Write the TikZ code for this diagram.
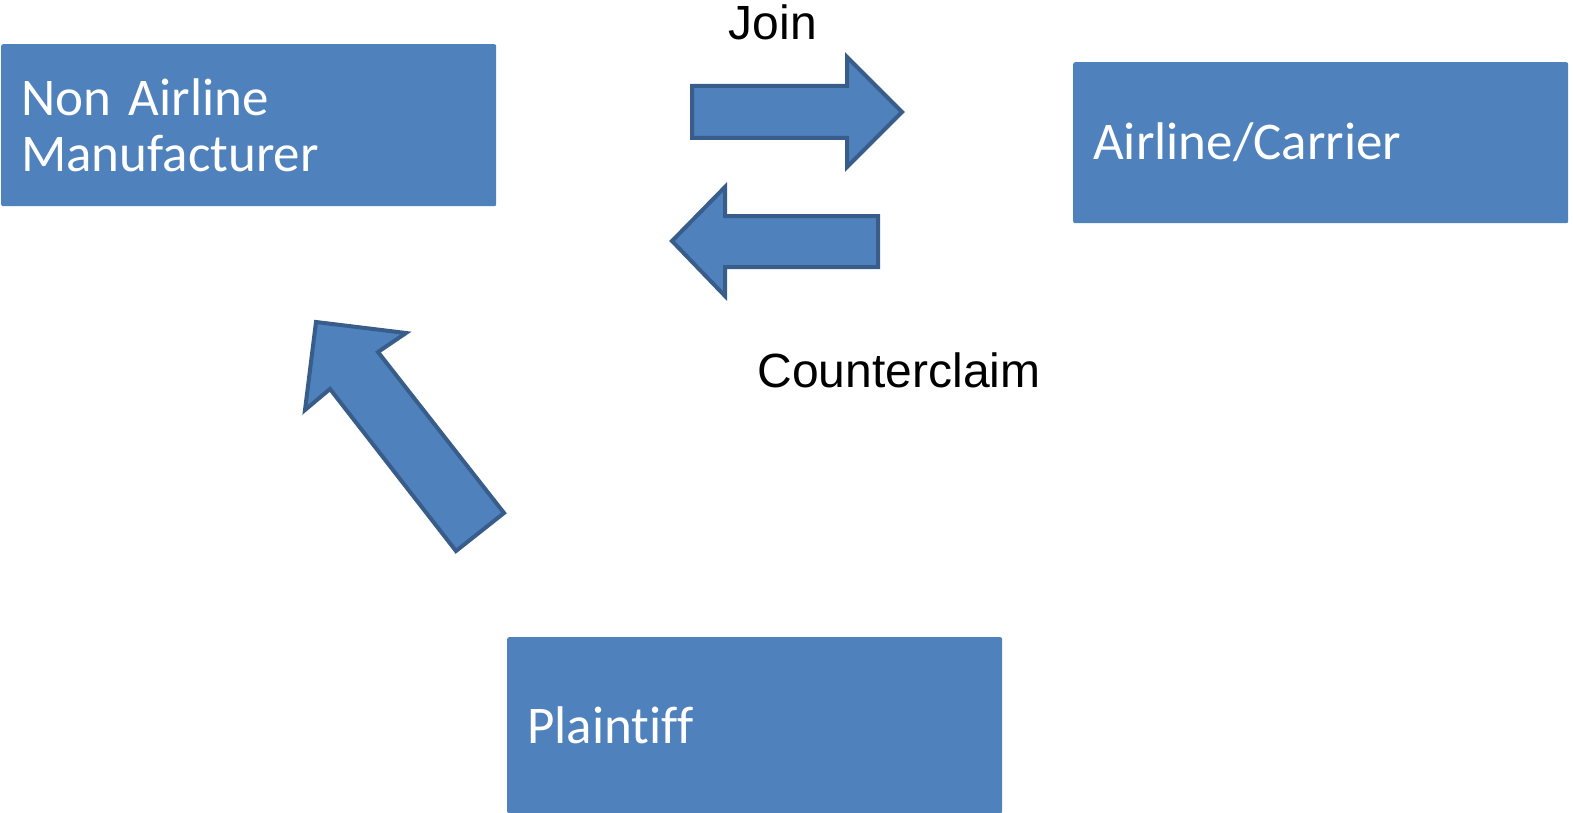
\documentclass[tikz,border=0pt]{standalone}
\usepackage{fontspec}
\setmainfont{Carlito}[Ligatures={NoCommon,NoContextual}]
\newfontfamily\arialfont{Liberation Sans}
\definecolor{boxblue}{HTML}{4F81BD}
\definecolor{edgeblue}{HTML}{385D8A}
\tikzset{
  party/.style={fill=boxblue, text=white, rounded corners=2pt, anchor=north west,
    inner xsep=20pt, inner ysep=0pt, text width=455pt, align=left,
    font=\fontsize{53}{56}\selectfont},
  blockarrow/.style={fill=boxblue, draw=edgeblue, line width=4pt},
  claimtext/.style={anchor=base, font=\arialfont\fontsize{48}{56}\selectfont}
}

\begin{document}
\begin{tikzpicture}[x=1pt, y=-1pt]
  \useasboundingbox (0,0) rectangle (1573,813);
  % parties
  \node[party, minimum height=162pt] (maker) at (1,44) {Non Airline\\Manufacturer};
  \node[party, minimum height=161pt] (carrier) at (1073,62) {Airline/Carrier};
  \node[party, minimum height=176pt] (plaintiff) at (507,637) {Plaintiff};
  % join arrow
  \draw[blockarrow] (692,86) -- (847,86) -- (847,57) -- (902,112)
    -- (847,167) -- (847,138) -- (692,138) -- cycle;
  % counterclaim arrow
  \draw[blockarrow] (878,216) -- (725,216) -- (725,187) -- (672,241)
    -- (725,296) -- (725,267) -- (878,267) -- cycle;
  % plaintiff sues manufacturer
  \draw[blockarrow] (316,322) -- (406,333) -- (378,352) -- (504,513)
    -- (456,551) -- (330,389) -- (305,410) -- cycle;
  \node[claimtext] (join) at (773,40) {Join};
  \node[claimtext] (counter) at (899,387) {Counterclaim};
\end{tikzpicture}
\end{document}
